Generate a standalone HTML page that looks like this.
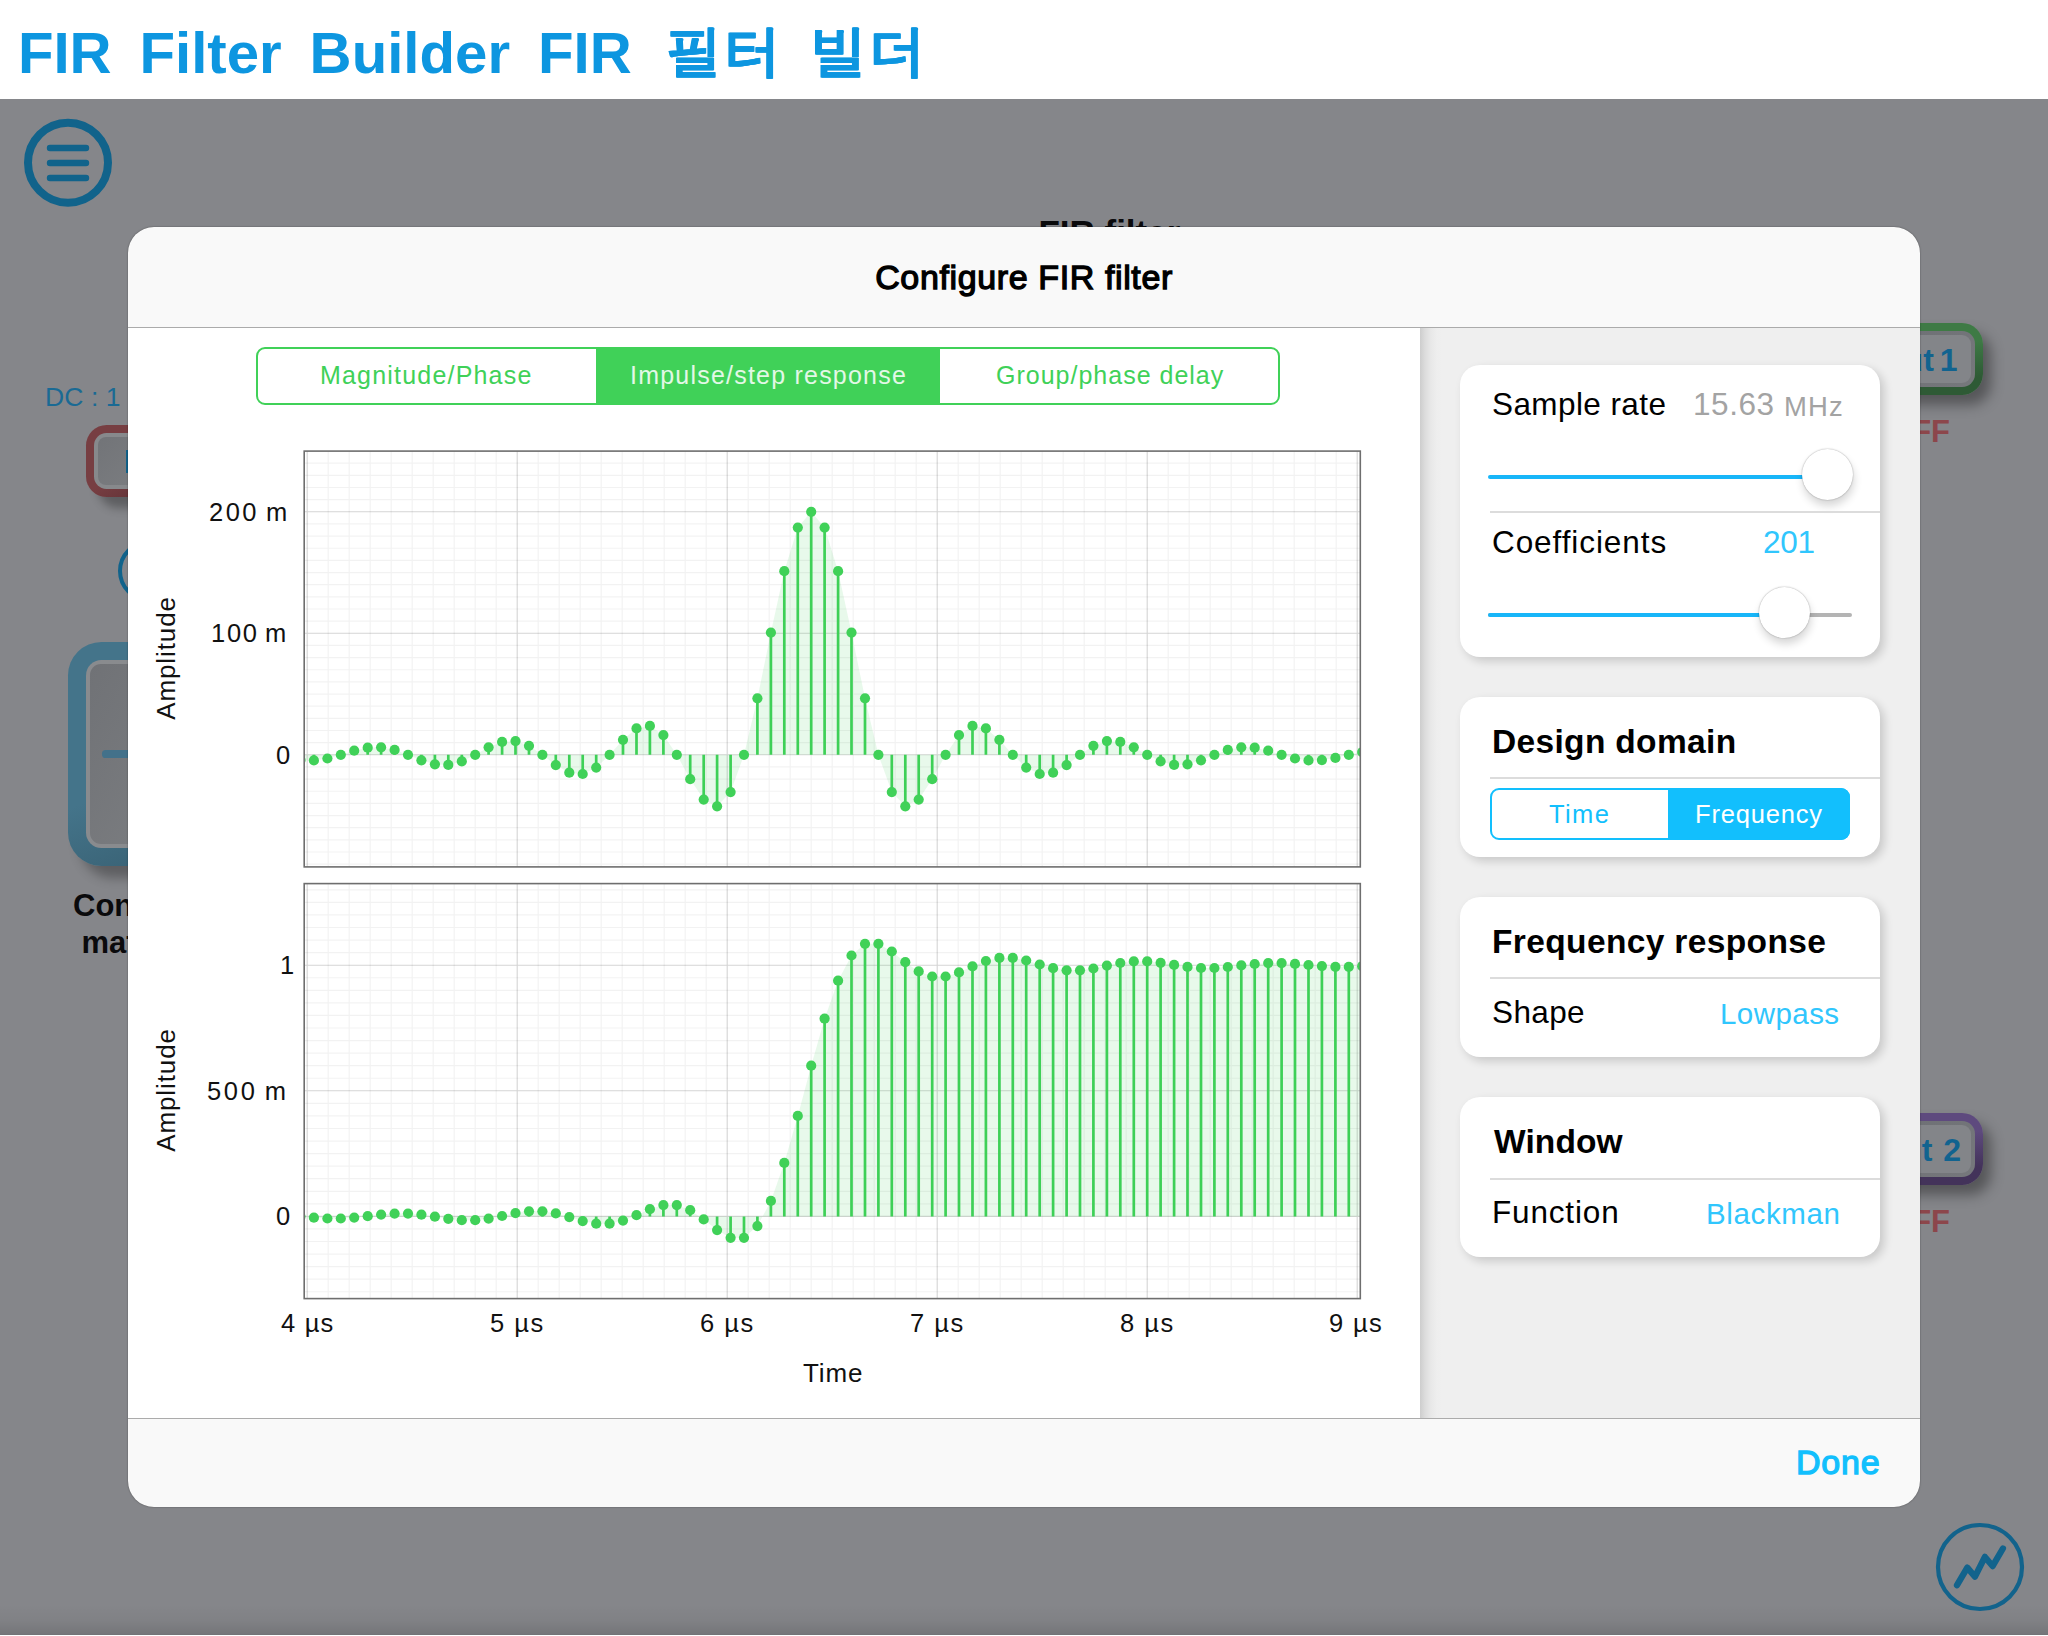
<!DOCTYPE html>
<html lang="en"><head><meta charset="utf-8"><title>FIR Filter Builder</title>
<style>
html,body{margin:0;padding:0}
body{width:2048px;height:1636px;overflow:hidden;position:relative;background:#85868a;font-family:"Liberation Sans","WenQuanYi Zen Hei",sans-serif;}
.t{position:absolute;white-space:nowrap;line-height:1;display:block}
.abs{position:absolute}
.card{position:absolute;left:1460px;width:420px;background:#fff;border-radius:20px;box-shadow:4px 4px 10px rgba(0,0,0,.165)}
.sep{position:absolute;left:1490px;width:390px;height:2px;background:#dcdcdc}
.thumb{position:absolute;width:51px;height:51px;border-radius:50%;background:#fff;box-shadow:1px 6px 9px rgba(0,0,0,.16),0 0 1.5px rgba(0,0,0,.4)}
</style></head><body>

<div class="abs" style="left:0;top:0;width:2048px;height:99px;background:#fff"></div>
<span class="t" id="title" style="top:24.13px;font-size:58.2px;color:#0d96e0;font-weight:700;left:17.90px;word-spacing:11.7px;">FIR Filter Builder FIR</span>
<span class="t" id="titlekr" style="top:24.42px;font-size:55.5px;color:#0d96e0;font-weight:900;letter-spacing:3.425px;left:666.00px;font-family:'Liberation Sans','WenQuanYi Zen Hei','Noto Sans CJK KR',sans-serif;text-shadow:.6px 0 0 #0d96e0,-.6px 0 0 #0d96e0;word-spacing:8px;">필터 빌더</span>
<div class="abs" style="left:0;top:1604px;width:2048px;height:32px;background:linear-gradient(to bottom,rgba(0,0,0,0) 0%,rgba(0,0,0,.035) 50%,rgba(0,0,0,.12) 94%,rgba(0,0,0,.2) 100%)"></div>
<svg class="abs" style="left:0;top:99px" width="140" height="140" viewBox="0 99 140 140">
<circle cx="68" cy="162.7" r="40" fill="none" stroke="#11638b" stroke-width="8"/>
<g stroke="#11638b" stroke-width="6.4" stroke-linecap="round"><path d="M50 148H86M50 163H86M50 178H86"/></g></svg>
<span class="t" id="bgfir" style="top:215.47px;font-size:35px;color:#0a0a0c;font-weight:700;left:1038.40px;">FIR filter</span>
<span class="t" id="dc" style="top:384.27px;font-size:26.5px;color:#1a6a94;letter-spacing:0.100px;left:45.00px;">DC : 1</span>
<div class="abs" style="left:86px;top:425px;width:90px;height:72px;border-radius:20.6px;background:linear-gradient(150deg,#773e42 55%,#5b2f34 95%);box-shadow:12px 11px 10px rgba(0,0,0,.3)"><div class="abs" style="left:8.2px;top:8.2px;right:8.2px;bottom:8.2px;border-radius:12.4px;background:#87898c"><div class="abs" style="left:4px;top:4px;right:4px;bottom:4px;border-radius:8px;background:linear-gradient(135deg,#727478,#7d7f82)"></div></div></div>
<div class="abs" style="left:126px;top:450px;width:4px;height:22.5px;background:#11638b"></div>
<div class="abs" style="left:117.9px;top:540px;width:62px;height:62px;box-sizing:border-box;border:4.5px solid #11638b;border-radius:50%"></div>
<div class="abs" style="left:68px;top:642px;width:150px;height:224px;border-radius:33.4px;background:linear-gradient(160deg,#44748a 60%,#375e70 100%);box-shadow:12px 12px 12px rgba(0,0,0,.3)"><div class="abs" style="left:18px;top:18px;right:18px;bottom:18px;border-radius:15.4px;background:#898b8e"><div class="abs" style="left:4.3px;top:4.3px;right:4.3px;bottom:4.3px;border-radius:11px;background:linear-gradient(120deg,#707276,#7d7f82)"></div></div></div>
<div class="abs" style="left:101.5px;top:750.3px;width:40px;height:7.3px;border-radius:3.6px;background:#43718a"></div>
<span class="t" id="con" style="top:889.76px;font-size:31px;color:#0a0a0c;font-weight:700;left:73.00px;">Con</span>
<span class="t" id="mat" style="top:927.46px;font-size:31px;color:#0a0a0c;font-weight:700;left:81.50px;">mat</span>
<div class="abs" style="left:1843px;top:323px;width:140px;height:72px;border-radius:21px;background:linear-gradient(to bottom,#3e7a45 25%,#2e5a35 75%);box-shadow:8px 10px 13px rgba(0,0,0,.36)"><div class="abs" style="left:8.1px;top:8.1px;right:8.1px;bottom:8.1px;border-radius:12.9px;background:linear-gradient(135deg,#6b6d72,#76787c)"><div class="abs" style="left:3.6px;top:3.6px;right:3.6px;bottom:3.6px;border-radius:9px;background:#838589"></div></div></div>
<span class="t" id="out1" style="top:343.51px;font-size:32px;color:#11638f;font-weight:700;right:90.50px;word-spacing:-3px;">Output 1</span>
<span class="t" id="ff1" style="top:415.56px;font-size:31px;color:#8c464b;font-weight:700;right:98.00px;">FF</span>
<div class="abs" style="left:1843px;top:1113px;width:140px;height:72px;border-radius:21px;background:linear-gradient(to bottom,#5e4a7e 25%,#43335a 75%);box-shadow:8px 10px 13px rgba(0,0,0,.36)"><div class="abs" style="left:8.1px;top:8.1px;right:8.1px;bottom:8.1px;border-radius:12.9px;background:linear-gradient(135deg,#6b6d72,#76787c)"><div class="abs" style="left:3.6px;top:3.6px;right:3.6px;bottom:3.6px;border-radius:9px;background:#838589"></div></div></div>
<span class="t" id="out2" style="top:1133.91px;font-size:32px;color:#11638f;font-weight:700;right:87.00px;word-spacing:2px;">Output 2</span>
<span class="t" id="ff2" style="top:1205.56px;font-size:31px;color:#8c464b;font-weight:700;right:98.00px;">FF</span>
<svg class="abs" style="left:1930px;top:1516px" width="100" height="100" viewBox="1930 1516 100 100">
<circle cx="1980" cy="1567" r="42" fill="none" stroke="#12638c" stroke-width="4.2"/>
<path d="M1957 1585.2L1967.3 1567.6L1975 1576.7L1984.9 1556.9L1992.6 1566.1L2002.9 1548.5" fill="none" stroke="#12638c" stroke-width="6.3" stroke-linecap="round" stroke-linejoin="round"/></svg>
<div class="abs" style="left:128px;top:227px;width:1792px;height:1280px;border-radius:26px;background:#f9f9f9;overflow:hidden;box-shadow:0 0 1.5px rgba(0,0,0,.55)">
<div class="abs" style="left:-128px;top:-227px;width:2048px;height:1636px">
<div class="abs" style="left:128px;top:328px;width:1292px;height:1090px;background:#fff"></div>
<div class="abs" style="left:1420px;top:328px;width:500px;height:1090px;background:linear-gradient(to right,#cdcdcd 0px,#dcdcdc 5px,#e8e8e8 11px,#eeeeee 17px,#efefef 22px)"></div>
<div class="abs" style="left:128px;top:326.5px;width:1792px;height:1.5px;background:#ababab"></div>
<div class="abs" style="left:128px;top:1417.5px;width:1792px;height:1.5px;background:#ababab"></div>
<span class="t" id="hdr" style="top:260.32px;font-size:34px;color:#000;letter-spacing:0.619px;left:875.20px;-webkit-text-stroke:1.3px #000;">Configure FIR filter</span>
<span class="t" id="done" style="top:1445.22px;font-size:34px;color:#12bffd;letter-spacing:0.866px;left:1795.90px;-webkit-text-stroke:1.3px #12bffd;">Done</span>
<div class="abs" style="left:256px;top:347px;width:1024px;height:58px;box-sizing:border-box;border:2px solid #40d158;border-radius:9px"></div>
<div class="abs" style="left:596px;top:347px;width:344px;height:58px;background:#40d158"></div>
<span class="t" id="seg1" style="top:363.34px;font-size:25px;color:#40d158;letter-spacing:1.195px;left:320.00px;">Magnitude/Phase</span>
<span class="t" id="seg2" style="top:363.34px;font-size:25px;color:#e2f8e6;letter-spacing:1.215px;left:630.00px;">Impulse/step response</span>
<span class="t" id="seg3" style="top:363.34px;font-size:25px;color:#40d158;letter-spacing:1.000px;left:996.00px;">Group/phase delay</span>
<svg class="abs" style="left:0;top:0" width="2048" height="1636" viewBox="0 0 2048 1636">
<defs><clipPath id="cp1"><rect x="304.2" y="451.1" width="1056.1" height="415.79999999999995"/></clipPath><clipPath id="cp2"><rect x="304.2" y="883.6" width="1056.1" height="414.9999999999999"/></clipPath></defs>
<g clip-path="url(#cp1)" fill="none"><path d="M328.2 451.1V866.9M349.2 451.1V866.9M370.2 451.1V866.9M391.2 451.1V866.9M412.2 451.1V866.9M433.2 451.1V866.9M454.2 451.1V866.9M475.2 451.1V866.9M496.2 451.1V866.9M538.2 451.1V866.9M559.2 451.1V866.9M580.2 451.1V866.9M601.2 451.1V866.9M622.2 451.1V866.9M643.2 451.1V866.9M664.2 451.1V866.9M685.2 451.1V866.9M706.2 451.1V866.9M748.2 451.1V866.9M769.2 451.1V866.9M790.2 451.1V866.9M811.2 451.1V866.9M832.2 451.1V866.9M853.2 451.1V866.9M874.2 451.1V866.9M895.2 451.1V866.9M916.2 451.1V866.9M958.2 451.1V866.9M979.2 451.1V866.9M1000.2 451.1V866.9M1021.2 451.1V866.9M1042.2 451.1V866.9M1063.2 451.1V866.9M1084.2 451.1V866.9M1105.2 451.1V866.9M1126.2 451.1V866.9M1168.2 451.1V866.9M1189.2 451.1V866.9M1210.2 451.1V866.9M1231.2 451.1V866.9M1252.2 451.1V866.9M1273.2 451.1V866.9M1294.2 451.1V866.9M1315.2 451.1V866.9M1336.2 451.1V866.9M304.2 864.15H1360.3M304.2 852.00H1360.3M304.2 839.85H1360.3M304.2 827.70H1360.3M304.2 815.55H1360.3M304.2 803.40H1360.3M304.2 791.25H1360.3M304.2 779.10H1360.3M304.2 766.95H1360.3M304.2 742.65H1360.3M304.2 730.50H1360.3M304.2 718.35H1360.3M304.2 706.20H1360.3M304.2 694.05H1360.3M304.2 681.90H1360.3M304.2 669.75H1360.3M304.2 657.60H1360.3M304.2 645.45H1360.3M304.2 621.15H1360.3M304.2 609.00H1360.3M304.2 596.85H1360.3M304.2 584.70H1360.3M304.2 572.55H1360.3M304.2 560.40H1360.3M304.2 548.25H1360.3M304.2 536.10H1360.3M304.2 523.95H1360.3M304.2 499.65H1360.3M304.2 487.50H1360.3M304.2 475.35H1360.3M304.2 463.20H1360.3" stroke="#000" stroke-opacity=".05" stroke-width="1.2"/><path d="M307.2 451.1V866.9M517.2 451.1V866.9M727.2 451.1V866.9M937.2 451.1V866.9M1147.2 451.1V866.9M1357.2 451.1V866.9M304.2 754.80H1360.3M304.2 633.30H1360.3M304.2 511.80H1360.3" stroke="#000" stroke-opacity=".17" stroke-width="1.1"/></g>
<g clip-path="url(#cp2)" fill="none"><path d="M328.2 883.6V1298.6M349.2 883.6V1298.6M370.2 883.6V1298.6M391.2 883.6V1298.6M412.2 883.6V1298.6M433.2 883.6V1298.6M454.2 883.6V1298.6M475.2 883.6V1298.6M496.2 883.6V1298.6M538.2 883.6V1298.6M559.2 883.6V1298.6M580.2 883.6V1298.6M601.2 883.6V1298.6M622.2 883.6V1298.6M643.2 883.6V1298.6M664.2 883.6V1298.6M685.2 883.6V1298.6M706.2 883.6V1298.6M748.2 883.6V1298.6M769.2 883.6V1298.6M790.2 883.6V1298.6M811.2 883.6V1298.6M832.2 883.6V1298.6M853.2 883.6V1298.6M874.2 883.6V1298.6M895.2 883.6V1298.6M916.2 883.6V1298.6M958.2 883.6V1298.6M979.2 883.6V1298.6M1000.2 883.6V1298.6M1021.2 883.6V1298.6M1042.2 883.6V1298.6M1063.2 883.6V1298.6M1084.2 883.6V1298.6M1105.2 883.6V1298.6M1126.2 883.6V1298.6M1168.2 883.6V1298.6M1189.2 883.6V1298.6M1210.2 883.6V1298.6M1231.2 883.6V1298.6M1252.2 883.6V1298.6M1273.2 883.6V1298.6M1294.2 883.6V1298.6M1315.2 883.6V1298.6M1336.2 883.6V1298.6M304.2 1291.76H1360.3M304.2 1279.20H1360.3M304.2 1266.64H1360.3M304.2 1254.08H1360.3M304.2 1241.52H1360.3M304.2 1228.96H1360.3M304.2 1203.84H1360.3M304.2 1191.28H1360.3M304.2 1178.72H1360.3M304.2 1166.16H1360.3M304.2 1153.60H1360.3M304.2 1141.04H1360.3M304.2 1128.48H1360.3M304.2 1115.92H1360.3M304.2 1103.36H1360.3M304.2 1078.24H1360.3M304.2 1065.68H1360.3M304.2 1053.12H1360.3M304.2 1040.56H1360.3M304.2 1028.00H1360.3M304.2 1015.44H1360.3M304.2 1002.88H1360.3M304.2 990.32H1360.3M304.2 977.76H1360.3M304.2 952.64H1360.3M304.2 940.08H1360.3M304.2 927.52H1360.3M304.2 914.96H1360.3M304.2 902.40H1360.3M304.2 889.84H1360.3" stroke="#000" stroke-opacity=".05" stroke-width="1.2"/><path d="M307.2 883.6V1298.6M517.2 883.6V1298.6M727.2 883.6V1298.6M937.2 883.6V1298.6M1147.2 883.6V1298.6M1357.2 883.6V1298.6M304.2 1216.40H1360.3M304.2 1090.80H1360.3M304.2 965.20H1360.3" stroke="#000" stroke-opacity=".17" stroke-width="1.1"/></g>
<g clip-path="url(#cp1)"><path d="M287.0 754.8L287.0 757.9L300.5 760.1L313.9 760.4L327.4 758.5L340.8 754.8L354.2 750.7L367.7 747.7L381.1 747.3L394.6 749.9L408.0 754.8L421.4 760.3L434.9 764.3L448.3 764.9L461.8 761.4L475.2 754.8L488.6 747.3L502.1 741.9L515.5 741.1L529.0 745.8L542.4 754.8L555.8 765.1L569.3 772.7L582.7 774.0L596.2 767.6L609.6 754.8L623.0 739.8L636.5 728.4L649.9 725.9L663.4 735.1L676.8 754.8L690.2 779.2L703.7 799.6L717.1 806.3L730.6 792.1L744.0 754.8L757.4 698.3L770.9 632.6L784.3 571.2L797.8 527.6L811.2 511.8L824.6 527.6L838.1 571.2L851.5 632.6L865.0 698.3L878.4 754.8L891.8 792.1L905.3 806.3L918.7 799.6L932.2 779.2L945.6 754.8L959.0 735.1L972.5 725.9L985.9 728.4L999.4 739.8L1012.8 754.8L1026.2 767.6L1039.7 774.0L1053.1 772.7L1066.6 765.1L1080.0 754.8L1093.4 745.8L1106.9 741.1L1120.3 741.9L1133.8 747.3L1147.2 754.8L1160.6 761.4L1174.1 764.9L1187.5 764.3L1201.0 760.3L1214.4 754.8L1227.8 749.9L1241.3 747.3L1254.7 747.7L1268.2 750.7L1281.6 754.8L1295.0 758.5L1308.5 760.4L1321.9 760.1L1335.4 757.9L1348.8 754.8L1362.2 752.1L1375.7 750.6L1375.7 754.8Z" fill="#40d158" fill-opacity=".12"/><path d="M300.5 754.8V760.1M313.9 754.8V760.4M354.2 754.8V750.7M367.7 754.8V747.7M381.1 754.8V747.3M394.6 754.8V749.9M421.4 754.8V760.3M434.9 754.8V764.3M448.3 754.8V764.9M461.8 754.8V761.4M488.6 754.8V747.3M502.1 754.8V741.9M515.5 754.8V741.1M529.0 754.8V745.8M555.8 754.8V765.1M569.3 754.8V772.7M582.7 754.8V774.0M596.2 754.8V767.6M623.0 754.8V739.8M636.5 754.8V728.4M649.9 754.8V725.9M663.4 754.8V735.1M690.2 754.8V779.2M703.7 754.8V799.6M717.1 754.8V806.3M730.6 754.8V792.1M757.4 754.8V698.3M770.9 754.8V632.6M784.3 754.8V571.2M797.8 754.8V527.6M811.2 754.8V511.8M824.6 754.8V527.6M838.1 754.8V571.2M851.5 754.8V632.6M865.0 754.8V698.3M891.8 754.8V792.1M905.3 754.8V806.3M918.7 754.8V799.6M932.2 754.8V779.2M959.0 754.8V735.1M972.5 754.8V725.9M985.9 754.8V728.4M999.4 754.8V739.8M1026.2 754.8V767.6M1039.7 754.8V774.0M1053.1 754.8V772.7M1066.6 754.8V765.1M1093.4 754.8V745.8M1106.9 754.8V741.1M1120.3 754.8V741.9M1133.8 754.8V747.3M1160.6 754.8V761.4M1174.1 754.8V764.9M1187.5 754.8V764.3M1201.0 754.8V760.3M1227.8 754.8V749.9M1241.3 754.8V747.3M1254.7 754.8V747.7M1268.2 754.8V750.7M1308.5 754.8V760.4M1321.9 754.8V760.1M1375.7 754.8V750.6" stroke="#3ed057" stroke-width="2.7" fill="none"/><g fill="#40d158"><circle cx="287.0" cy="757.9" r="5.1"/><circle cx="300.5" cy="760.1" r="5.1"/><circle cx="313.9" cy="760.4" r="5.1"/><circle cx="327.4" cy="758.5" r="5.1"/><circle cx="340.8" cy="754.8" r="5.1"/><circle cx="354.2" cy="750.7" r="5.1"/><circle cx="367.7" cy="747.7" r="5.1"/><circle cx="381.1" cy="747.3" r="5.1"/><circle cx="394.6" cy="749.9" r="5.1"/><circle cx="408.0" cy="754.8" r="5.1"/><circle cx="421.4" cy="760.3" r="5.1"/><circle cx="434.9" cy="764.3" r="5.1"/><circle cx="448.3" cy="764.9" r="5.1"/><circle cx="461.8" cy="761.4" r="5.1"/><circle cx="475.2" cy="754.8" r="5.1"/><circle cx="488.6" cy="747.3" r="5.1"/><circle cx="502.1" cy="741.9" r="5.1"/><circle cx="515.5" cy="741.1" r="5.1"/><circle cx="529.0" cy="745.8" r="5.1"/><circle cx="542.4" cy="754.8" r="5.1"/><circle cx="555.8" cy="765.1" r="5.1"/><circle cx="569.3" cy="772.7" r="5.1"/><circle cx="582.7" cy="774.0" r="5.1"/><circle cx="596.2" cy="767.6" r="5.1"/><circle cx="609.6" cy="754.8" r="5.1"/><circle cx="623.0" cy="739.8" r="5.1"/><circle cx="636.5" cy="728.4" r="5.1"/><circle cx="649.9" cy="725.9" r="5.1"/><circle cx="663.4" cy="735.1" r="5.1"/><circle cx="676.8" cy="754.8" r="5.1"/><circle cx="690.2" cy="779.2" r="5.1"/><circle cx="703.7" cy="799.6" r="5.1"/><circle cx="717.1" cy="806.3" r="5.1"/><circle cx="730.6" cy="792.1" r="5.1"/><circle cx="744.0" cy="754.8" r="5.1"/><circle cx="757.4" cy="698.3" r="5.1"/><circle cx="770.9" cy="632.6" r="5.1"/><circle cx="784.3" cy="571.2" r="5.1"/><circle cx="797.8" cy="527.6" r="5.1"/><circle cx="811.2" cy="511.8" r="5.1"/><circle cx="824.6" cy="527.6" r="5.1"/><circle cx="838.1" cy="571.2" r="5.1"/><circle cx="851.5" cy="632.6" r="5.1"/><circle cx="865.0" cy="698.3" r="5.1"/><circle cx="878.4" cy="754.8" r="5.1"/><circle cx="891.8" cy="792.1" r="5.1"/><circle cx="905.3" cy="806.3" r="5.1"/><circle cx="918.7" cy="799.6" r="5.1"/><circle cx="932.2" cy="779.2" r="5.1"/><circle cx="945.6" cy="754.8" r="5.1"/><circle cx="959.0" cy="735.1" r="5.1"/><circle cx="972.5" cy="725.9" r="5.1"/><circle cx="985.9" cy="728.4" r="5.1"/><circle cx="999.4" cy="739.8" r="5.1"/><circle cx="1012.8" cy="754.8" r="5.1"/><circle cx="1026.2" cy="767.6" r="5.1"/><circle cx="1039.7" cy="774.0" r="5.1"/><circle cx="1053.1" cy="772.7" r="5.1"/><circle cx="1066.6" cy="765.1" r="5.1"/><circle cx="1080.0" cy="754.8" r="5.1"/><circle cx="1093.4" cy="745.8" r="5.1"/><circle cx="1106.9" cy="741.1" r="5.1"/><circle cx="1120.3" cy="741.9" r="5.1"/><circle cx="1133.8" cy="747.3" r="5.1"/><circle cx="1147.2" cy="754.8" r="5.1"/><circle cx="1160.6" cy="761.4" r="5.1"/><circle cx="1174.1" cy="764.9" r="5.1"/><circle cx="1187.5" cy="764.3" r="5.1"/><circle cx="1201.0" cy="760.3" r="5.1"/><circle cx="1214.4" cy="754.8" r="5.1"/><circle cx="1227.8" cy="749.9" r="5.1"/><circle cx="1241.3" cy="747.3" r="5.1"/><circle cx="1254.7" cy="747.7" r="5.1"/><circle cx="1268.2" cy="750.7" r="5.1"/><circle cx="1281.6" cy="754.8" r="5.1"/><circle cx="1295.0" cy="758.5" r="5.1"/><circle cx="1308.5" cy="760.4" r="5.1"/><circle cx="1321.9" cy="760.1" r="5.1"/><circle cx="1335.4" cy="757.9" r="5.1"/><circle cx="1348.8" cy="754.8" r="5.1"/><circle cx="1362.2" cy="752.1" r="5.1"/><circle cx="1375.7" cy="750.6" r="5.1"/></g></g>
<g clip-path="url(#cp2)"><path d="M287.0 1216.4L287.0 1215.5L300.5 1216.6L313.9 1217.7L327.4 1218.5L340.8 1218.5L354.2 1217.6L367.7 1216.2L381.1 1214.6L394.6 1213.6L408.0 1213.6L421.4 1214.7L434.9 1216.7L448.3 1218.8L461.8 1220.2L475.2 1220.2L488.6 1218.6L502.1 1216.0L515.5 1213.1L529.0 1211.3L542.4 1211.3L555.8 1213.4L569.3 1217.1L582.7 1221.1L596.2 1223.7L609.6 1223.7L623.0 1220.6L636.5 1215.2L649.9 1209.2L663.4 1205.1L676.8 1205.1L690.2 1210.2L703.7 1219.4L717.1 1230.1L730.6 1237.8L744.0 1237.8L757.4 1226.1L770.9 1200.9L784.3 1162.9L797.8 1115.9L811.2 1065.7L824.6 1018.7L838.1 980.7L851.5 955.5L865.0 943.8L878.4 943.8L891.8 951.5L905.3 962.2L918.7 971.4L932.2 976.5L945.6 976.5L959.0 972.4L972.5 966.4L985.9 961.0L999.4 957.9L1012.8 957.9L1026.2 960.5L1039.7 964.5L1053.1 968.2L1066.6 970.3L1080.0 970.3L1093.4 968.5L1106.9 965.6L1120.3 963.0L1133.8 961.4L1147.2 961.4L1160.6 962.8L1174.1 964.9L1187.5 966.9L1201.0 968.0L1214.4 968.0L1227.8 967.0L1241.3 965.4L1254.7 964.0L1268.2 963.1L1281.6 963.1L1295.0 963.9L1308.5 965.0L1321.9 966.1L1335.4 966.8L1348.8 966.8L1362.2 966.2L1375.7 965.3L1375.7 1216.4Z" fill="#40d158" fill-opacity=".12"/><path d="M529.0 1216.4V1211.3M542.4 1216.4V1211.3M582.7 1216.4V1221.1M596.2 1216.4V1223.7M609.6 1216.4V1223.7M623.0 1216.4V1220.6M649.9 1216.4V1209.2M663.4 1216.4V1205.1M676.8 1216.4V1205.1M690.2 1216.4V1210.2M717.1 1216.4V1230.1M730.6 1216.4V1237.8M744.0 1216.4V1237.8M757.4 1216.4V1226.1M770.9 1216.4V1200.9M784.3 1216.4V1162.9M797.8 1216.4V1115.9M811.2 1216.4V1065.7M824.6 1216.4V1018.7M838.1 1216.4V980.7M851.5 1216.4V955.5M865.0 1216.4V943.8M878.4 1216.4V943.8M891.8 1216.4V951.5M905.3 1216.4V962.2M918.7 1216.4V971.4M932.2 1216.4V976.5M945.6 1216.4V976.5M959.0 1216.4V972.4M972.5 1216.4V966.4M985.9 1216.4V961.0M999.4 1216.4V957.9M1012.8 1216.4V957.9M1026.2 1216.4V960.5M1039.7 1216.4V964.5M1053.1 1216.4V968.2M1066.6 1216.4V970.3M1080.0 1216.4V970.3M1093.4 1216.4V968.5M1106.9 1216.4V965.6M1120.3 1216.4V963.0M1133.8 1216.4V961.4M1147.2 1216.4V961.4M1160.6 1216.4V962.8M1174.1 1216.4V964.9M1187.5 1216.4V966.9M1201.0 1216.4V968.0M1214.4 1216.4V968.0M1227.8 1216.4V967.0M1241.3 1216.4V965.4M1254.7 1216.4V964.0M1268.2 1216.4V963.1M1281.6 1216.4V963.1M1295.0 1216.4V963.9M1308.5 1216.4V965.0M1321.9 1216.4V966.1M1335.4 1216.4V966.8M1348.8 1216.4V966.8M1362.2 1216.4V966.2M1375.7 1216.4V965.3" stroke="#3ed057" stroke-width="2.7" fill="none"/><g fill="#40d158"><circle cx="287.0" cy="1215.5" r="5.1"/><circle cx="300.5" cy="1216.6" r="5.1"/><circle cx="313.9" cy="1217.7" r="5.1"/><circle cx="327.4" cy="1218.5" r="5.1"/><circle cx="340.8" cy="1218.5" r="5.1"/><circle cx="354.2" cy="1217.6" r="5.1"/><circle cx="367.7" cy="1216.2" r="5.1"/><circle cx="381.1" cy="1214.6" r="5.1"/><circle cx="394.6" cy="1213.6" r="5.1"/><circle cx="408.0" cy="1213.6" r="5.1"/><circle cx="421.4" cy="1214.7" r="5.1"/><circle cx="434.9" cy="1216.7" r="5.1"/><circle cx="448.3" cy="1218.8" r="5.1"/><circle cx="461.8" cy="1220.2" r="5.1"/><circle cx="475.2" cy="1220.2" r="5.1"/><circle cx="488.6" cy="1218.6" r="5.1"/><circle cx="502.1" cy="1216.0" r="5.1"/><circle cx="515.5" cy="1213.1" r="5.1"/><circle cx="529.0" cy="1211.3" r="5.1"/><circle cx="542.4" cy="1211.3" r="5.1"/><circle cx="555.8" cy="1213.4" r="5.1"/><circle cx="569.3" cy="1217.1" r="5.1"/><circle cx="582.7" cy="1221.1" r="5.1"/><circle cx="596.2" cy="1223.7" r="5.1"/><circle cx="609.6" cy="1223.7" r="5.1"/><circle cx="623.0" cy="1220.6" r="5.1"/><circle cx="636.5" cy="1215.2" r="5.1"/><circle cx="649.9" cy="1209.2" r="5.1"/><circle cx="663.4" cy="1205.1" r="5.1"/><circle cx="676.8" cy="1205.1" r="5.1"/><circle cx="690.2" cy="1210.2" r="5.1"/><circle cx="703.7" cy="1219.4" r="5.1"/><circle cx="717.1" cy="1230.1" r="5.1"/><circle cx="730.6" cy="1237.8" r="5.1"/><circle cx="744.0" cy="1237.8" r="5.1"/><circle cx="757.4" cy="1226.1" r="5.1"/><circle cx="770.9" cy="1200.9" r="5.1"/><circle cx="784.3" cy="1162.9" r="5.1"/><circle cx="797.8" cy="1115.9" r="5.1"/><circle cx="811.2" cy="1065.7" r="5.1"/><circle cx="824.6" cy="1018.7" r="5.1"/><circle cx="838.1" cy="980.7" r="5.1"/><circle cx="851.5" cy="955.5" r="5.1"/><circle cx="865.0" cy="943.8" r="5.1"/><circle cx="878.4" cy="943.8" r="5.1"/><circle cx="891.8" cy="951.5" r="5.1"/><circle cx="905.3" cy="962.2" r="5.1"/><circle cx="918.7" cy="971.4" r="5.1"/><circle cx="932.2" cy="976.5" r="5.1"/><circle cx="945.6" cy="976.5" r="5.1"/><circle cx="959.0" cy="972.4" r="5.1"/><circle cx="972.5" cy="966.4" r="5.1"/><circle cx="985.9" cy="961.0" r="5.1"/><circle cx="999.4" cy="957.9" r="5.1"/><circle cx="1012.8" cy="957.9" r="5.1"/><circle cx="1026.2" cy="960.5" r="5.1"/><circle cx="1039.7" cy="964.5" r="5.1"/><circle cx="1053.1" cy="968.2" r="5.1"/><circle cx="1066.6" cy="970.3" r="5.1"/><circle cx="1080.0" cy="970.3" r="5.1"/><circle cx="1093.4" cy="968.5" r="5.1"/><circle cx="1106.9" cy="965.6" r="5.1"/><circle cx="1120.3" cy="963.0" r="5.1"/><circle cx="1133.8" cy="961.4" r="5.1"/><circle cx="1147.2" cy="961.4" r="5.1"/><circle cx="1160.6" cy="962.8" r="5.1"/><circle cx="1174.1" cy="964.9" r="5.1"/><circle cx="1187.5" cy="966.9" r="5.1"/><circle cx="1201.0" cy="968.0" r="5.1"/><circle cx="1214.4" cy="968.0" r="5.1"/><circle cx="1227.8" cy="967.0" r="5.1"/><circle cx="1241.3" cy="965.4" r="5.1"/><circle cx="1254.7" cy="964.0" r="5.1"/><circle cx="1268.2" cy="963.1" r="5.1"/><circle cx="1281.6" cy="963.1" r="5.1"/><circle cx="1295.0" cy="963.9" r="5.1"/><circle cx="1308.5" cy="965.0" r="5.1"/><circle cx="1321.9" cy="966.1" r="5.1"/><circle cx="1335.4" cy="966.8" r="5.1"/><circle cx="1348.8" cy="966.8" r="5.1"/><circle cx="1362.2" cy="966.2" r="5.1"/><circle cx="1375.7" cy="965.3" r="5.1"/></g></g>
<rect x="304.2" y="451.1" width="1056.1" height="415.79999999999995" fill="none" stroke="#6e6e6e" stroke-width="1.6"/>
<rect x="304.2" y="883.6" width="1056.1" height="414.9999999999999" fill="none" stroke="#6e6e6e" stroke-width="1.6"/>
</svg>
<span class="t" id="y200" style="top:499.81px;font-size:25.5px;color:#111;letter-spacing:2.450px;left:209.00px;word-spacing:-2.5px;">200 m</span>
<span class="t" id="y100" style="top:621.31px;font-size:25.5px;color:#111;letter-spacing:1.725px;left:211.00px;word-spacing:-2.5px;">100 m</span>
<span class="t" id="y0a" style="top:742.81px;font-size:25.5px;color:#111;letter-spacing:9.600px;left:276.00px;word-spacing:-2.5px;">0</span>
<span class="t" id="y1" style="top:953.41px;font-size:25.5px;color:#111;letter-spacing:-9.000px;left:280.00px;word-spacing:-2.5px;">1</span>
<span class="t" id="y500" style="top:1079.01px;font-size:25.5px;color:#111;letter-spacing:2.650px;left:207.00px;word-spacing:-2.5px;">500 m</span>
<span class="t" id="y0b" style="top:1204.41px;font-size:25.5px;color:#111;letter-spacing:9.600px;left:276.00px;word-spacing:-2.5px;">0</span>
<span class="t" id="x4" style="top:1310.71px;font-size:25.5px;color:#111;letter-spacing:1.195px;left:281.00px;">4 µs</span>
<span class="t" id="x5" style="top:1310.71px;font-size:25.5px;color:#111;letter-spacing:1.528px;left:490.00px;">5 µs</span>
<span class="t" id="x6" style="top:1310.71px;font-size:25.5px;color:#111;letter-spacing:1.528px;left:700.00px;">6 µs</span>
<span class="t" id="x7" style="top:1310.71px;font-size:25.5px;color:#111;letter-spacing:1.528px;left:910.00px;">7 µs</span>
<span class="t" id="x8" style="top:1310.71px;font-size:25.5px;color:#111;letter-spacing:1.528px;left:1120.00px;">8 µs</span>
<span class="t" id="x9" style="top:1310.71px;font-size:25.5px;color:#111;letter-spacing:1.369px;left:1329.00px;">9 µs</span>
<span class="t" id="time" style="top:1359.89px;font-size:26px;color:#111;letter-spacing:0.902px;left:803.00px;">Time</span>
<span class="t" id="amp1" style="left:166.2px;top:658.4px;font-size:26px;letter-spacing:.9px;color:#111;transform:translate(-50%,-50%) rotate(-90deg)">Amplitude</span>
<span class="t" id="amp2" style="left:166.2px;top:1090.3px;font-size:26px;letter-spacing:.9px;color:#111;transform:translate(-50%,-50%) rotate(-90deg)">Amplitude</span>
<div class="card" style="top:365px;height:292px"></div>
<div class="card" style="top:697px;height:160px"></div>
<div class="card" style="top:897px;height:160px"></div>
<div class="card" style="top:1097px;height:160px"></div>
<span class="t" id="sr" style="top:389.24px;font-size:31.5px;color:#000;letter-spacing:0.410px;left:1492.00px;">Sample rate</span>
<span class="t" id="srv" style="top:389.24px;font-size:31.5px;color:#a3a3a3;letter-spacing:0.575px;left:1693.00px;">15.63</span>
<span class="t" id="mhz" style="top:392.62px;font-size:27.5px;color:#a3a3a3;letter-spacing:1.150px;left:1784.00px;">MHz</span>
<div class="abs" style="left:1488px;top:475px;width:340px;height:4px;border-radius:2px;background:#18b6f9"></div>
<div class="thumb" style="left:1801.9px;top:449px"></div>
<div class="sep" style="top:511px"></div>
<span class="t" id="co" style="top:527.24px;font-size:31.5px;color:#000;letter-spacing:0.921px;left:1492.00px;">Coefficients</span>
<span class="t" id="cov" style="top:527.24px;font-size:31.5px;color:#30c6fd;letter-spacing:-0.300px;left:1763.00px;">201</span>
<div class="abs" style="left:1488px;top:613px;width:364px;height:4px;border-radius:2px;background:#b4b4b4"></div>
<div class="abs" style="left:1488px;top:613px;width:296px;height:4px;border-radius:2px;background:#18b6f9"></div>
<div class="thumb" style="left:1758.6px;top:587.4px"></div>
<span class="t" id="dd" style="top:724.64px;font-size:33.5px;color:#000;font-weight:700;letter-spacing:0.333px;left:1492.00px;">Design domain</span>
<div class="sep" style="top:777px"></div>
<div class="abs" style="left:1490px;top:788px;width:360px;height:52px;box-sizing:border-box;border:2px solid #12bffd;border-radius:9px"></div>
<div class="abs" style="left:1668px;top:788px;width:182px;height:52px;background:#12bffd;border-radius:0 9px 9px 0"></div>
<span class="t" id="tm" style="top:801.51px;font-size:25.5px;color:#12bffd;letter-spacing:1.375px;left:1549.00px;">Time</span>
<span class="t" id="fq" style="top:801.51px;font-size:25.5px;color:#fff;letter-spacing:0.812px;left:1695.00px;">Frequency</span>
<span class="t" id="fr" style="top:924.74px;font-size:33.5px;color:#000;font-weight:700;letter-spacing:0.365px;left:1492.00px;">Frequency response</span>
<div class="sep" style="top:977px"></div>
<span class="t" id="sh" style="top:997.34px;font-size:31.5px;color:#000;letter-spacing:0.375px;left:1492.00px;">Shape</span>
<span class="t" id="lp" style="top:999.03px;font-size:29.5px;color:#30c6fd;letter-spacing:0.447px;left:1720.00px;">Lowpass</span>
<span class="t" id="wn" style="top:1124.74px;font-size:33.5px;color:#000;font-weight:700;letter-spacing:0.100px;left:1494.00px;">Window</span>
<div class="sep" style="top:1177.5px"></div>
<span class="t" id="fn" style="top:1197.34px;font-size:31.5px;color:#000;letter-spacing:0.834px;left:1492.00px;">Function</span>
<span class="t" id="bm" style="top:1199.03px;font-size:29.5px;color:#30c6fd;letter-spacing:0.640px;left:1706.00px;">Blackman</span>
</div></div>
<div class="abs" style="left:0;top:1635.2px;width:2048px;height:1px;background:#fff"></div>
</body></html>
